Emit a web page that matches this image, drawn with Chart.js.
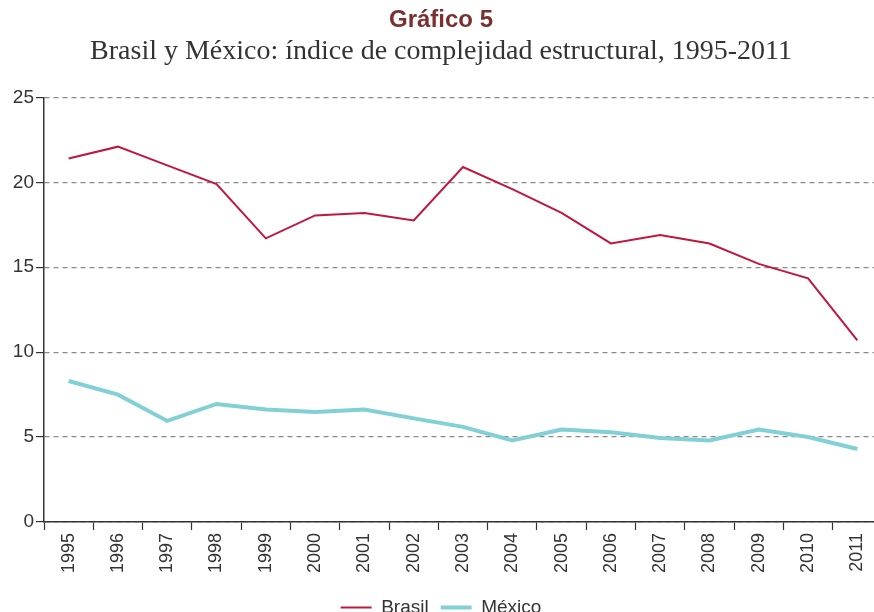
<!DOCTYPE html>
<html>
<head>
<meta charset="utf-8">
<script src="https://cdn.jsdelivr.net/npm/chart.js@4.4.1/dist/chart.umd.min.js"></script>
<style>
  html, body { margin: 0; padding: 0; background: #fff; overflow: hidden; }
  #wrap { position: relative; width: 892px; height: 627px; }
</style>
</head>
<body>
<div id="wrap"><canvas id="complejidad"></canvas></div>
<script>
// Years on the x axis
var years = ['1995', '1996', '1997', '1998', '1999', '2000', '2001', '2002', '2003',
             '2004', '2005', '2006', '2007', '2008', '2009', '2010', '2011'];

// Structural complexity index
var brasil = [21.4, 22.1, 21.0, 19.9, 16.7, 18.05, 18.2, 17.75, 20.9,
              19.6, 18.2, 16.4, 16.9, 16.4, 15.2, 14.35, 10.7];
var mexico = [8.3, 7.5, 5.95, 6.95, 6.63, 6.47, 6.62, 6.1, 5.6,
              4.8, 5.45, 5.28, 4.95, 4.8, 5.45, 5.0, 4.3];

var yTicks = [0, 5, 10, 15, 20, 25];

var sansFont = "'Liberation Sans', Arial, sans-serif";

var ctx = document.getElementById('complejidad').getContext('2d');
new Chart(ctx, {
    type: 'line',
    data: {
        labels: years,
        datasets: [{
            label: 'Brasil',
            data: brasil,
            borderColor: '#c0173f',
            backgroundColor: '#c0173f',
            borderWidth: 2,
            pointRadius: 0,
            tension: 0
        }, {
            label: 'México',
            data: mexico,
            borderColor: '#80d0d6',
            backgroundColor: '#80d0d6',
            borderWidth: 4,
            pointRadius: 0,
            tension: 0
        }]
    },
    options: {
        responsive: true,
        maintainAspectRatio: false,
        animation: false,
        layout: {
            padding: { left: 0, right: 10, top: 4, bottom: 0 }
        },
        plugins: {
            title: {
                display: true,
                text: 'Gráfico 5',
                color: '#7b2f2f',
                font: { family: sansFont, size: 24, weight: 'bold' },
                padding: { top: 2, bottom: 0 }
            },
            subtitle: {
                display: true,
                text: 'Brasil y México: índice de complejidad estructural, 1995-2011',
                color: '#333',
                font: { family: "'Liberation Serif', serif", size: 28 },
                padding: { top: 0, bottom: 29 }
            },
            legend: {
                position: 'bottom',
                labels: {
                    usePointStyle: true,
                    pointStyle: 'line',
                    pointStyleWidth: 31,
                    color: '#333',
                    font: { family: sansFont, size: 19 },
                    padding: 12
                }
            },
            tooltip: { enabled: false }
        },
        scales: {
            x: {
                offset: true,
                // leave room under the year labels before the legend
                afterFit: function(scale) { scale.height = 64; },
                grid: {
                    offset: true,
                    drawOnChartArea: false,
                    drawTicks: true,
                    tickLength: 8,
                    tickColor: '#333',
                    tickWidth: 1.2
                },
                border: { display: true, color: '#333', width: 1.5 },
                ticks: {
                    minRotation: 90,
                    maxRotation: 90,
                    color: '#333',
                    padding: 3,
                    font: { family: sansFont, size: 18 }
                }
            },
            y: {
                min: 0,
                max: 25,
                afterBuildTicks: function(scale) {
                    scale.ticks = yTicks.map(function(v) { return { value: v }; });
                },
                afterFit: function(scale) { scale.width = 44; },
                grid: {
                    color: '#8a8a8a',
                    lineWidth: 1.2,
                    tickColor: '#333',
                    tickBorderDash: [],
                    tickLength: 8,
                    tickWidth: 1.2
                },
                // in v4 the grid line dash lives on border.dash
                border: { display: true, color: '#333', width: 1.5, dash: [5, 4] },
                ticks: {
                    color: '#333',
                    padding: 2,
                    font: { family: sansFont, size: 19 }
                }
            }
        }
    }
});
</script>
</body>
</html>
